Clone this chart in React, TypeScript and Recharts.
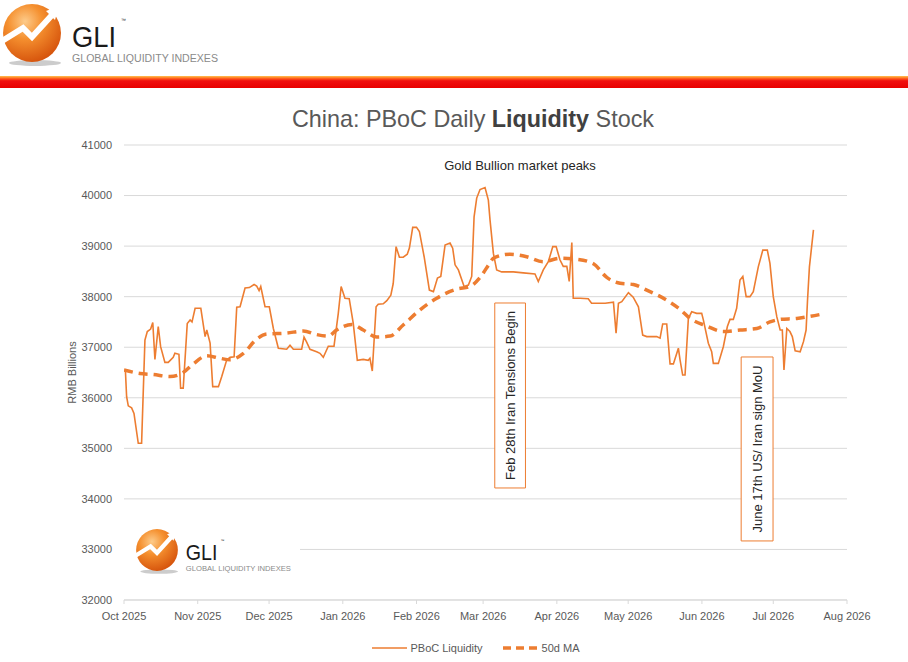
import React from 'react';
import { LineChart, Line, XAxis, YAxis, CartesianGrid, ReferenceArea, Legend } from 'recharts';

// ---------- data (x = days since 1 Oct 2025) ----------
const monthTickDays = [0, 31, 61, 92, 123, 151, 182, 212, 243, 273, 304];
const monthTickLabels = ['Oct 2025', 'Nov 2025', 'Dec 2025', 'Jan 2026', 'Feb 2026', 'Mar 2026', 'Apr 2026', 'May 2026', 'Jun 2026', 'Jul 2026', 'Aug 2026'];
const yTicks = [32000, 33000, 34000, 35000, 36000, 37000, 38000, 39000, 40000, 41000];

const pbocDays = [0, 0.6, 1.1, 1.8, 3.2, 4.2, 6.0, 7.4, 8.8, 9.8, 11.2, 12.1, 13.0, 14.4, 15.4, 17.2, 18.6, 20.7, 21.4, 23.1, 23.8, 24.9, 26.6, 27.8, 28.6, 29.9, 32.3, 34.1, 34.8, 36.2, 37.3, 39.7, 41.1, 43.2, 44.6, 46.3, 47.4, 48.8, 50.9, 52.7, 54.7, 55.8, 56.8, 57.5, 59.3, 61.1, 62.8, 64.9, 68.4, 69.8, 71.2, 74.7, 75.7, 76.8, 78.2, 81.0, 82.4, 83.8, 85.9, 88.3, 90.1, 91.3, 92.9, 94.7, 96.4, 98.1, 100.6, 102.7, 103.4, 104.4, 106.0, 106.9, 109.0, 110.5, 112.2, 113.2, 114.4, 115.8, 117.4, 119.1, 120.0, 121.4, 123.0, 124.2, 126.2, 128.4, 130.1, 131.8, 133.2, 135.0, 137.1, 138.2, 139.2, 140.6, 143.0, 144.8, 146.2, 147.2, 148.3, 149.7, 151.8, 153.2, 153.9, 155.3, 156.7, 158.8, 163.7, 167.9, 172.8, 174.2, 176.3, 178.4, 180.3, 181.7, 183.3, 184.7, 186.2, 187.2, 188.3, 188.9, 191.8, 195.2, 196.6, 202.3, 205.8, 206.9, 207.9, 209.3, 212.1, 214.1, 216.3, 218.1, 219.8, 224.0, 225.4, 226.5, 228.2, 229.6, 231.0, 233.1, 233.8, 234.9, 235.9, 237.3, 238.7, 240.8, 242.9, 243.6, 245.7, 247.1, 247.8, 249.9, 252.0, 253.7, 254.8, 256.2, 257.6, 259.0, 260.2, 261.6, 263.2, 264.6, 266.7, 268.6, 270.5, 271.6, 273.0, 274.5, 275.9, 276.8, 277.5, 278.7, 280.0, 281.0, 282.2, 284.3, 285.7, 286.8, 287.4, 288.2, 289.9];
const pbocValues = [36530, 36530, 36020, 35840, 35800, 35690, 35100, 35100, 37140, 37310, 37360, 37490, 36760, 37410, 37010, 36700, 36700, 36800, 36880, 36860, 36190, 36190, 37470, 37540, 37500, 37770, 37770, 37210, 37340, 37080, 36220, 36220, 36420, 36750, 36800, 36810, 37790, 37800, 38170, 38180, 38240, 38210, 38120, 38200, 37800, 37800, 37370, 36980, 36960, 37040, 36960, 36960, 37200, 37100, 36960, 36910, 36880, 36800, 37020, 37020, 37670, 38200, 37970, 37960, 37470, 36740, 36760, 36740, 36780, 36530, 37800, 37850, 37860, 37920, 38030, 38260, 38990, 38780, 38780, 38840, 38960, 39370, 39370, 39290, 38790, 38130, 38100, 38370, 38400, 39020, 39060, 38960, 38630, 38530, 38200, 38230, 38400, 39580, 39950, 40120, 40160, 39910, 39520, 38860, 38530, 38490, 38490, 38470, 38450, 38300, 38530, 38690, 38990, 38990, 38730, 38600, 38600, 38300, 39070, 37970, 37970, 37960, 37870, 37870, 37890, 37280, 37870, 37900, 38080, 37990, 37800, 37240, 37210, 37210, 37180, 37460, 37460, 36670, 36670, 36980, 36750, 36450, 36450, 37570, 37700, 37670, 37670, 37540, 37080, 36910, 36680, 36680, 37010, 37410, 37550, 37550, 37770, 38330, 38400, 38000, 38000, 38100, 38590, 38920, 38920, 38660, 38000, 37600, 37340, 37340, 36550, 37370, 37310, 37210, 36930, 36910, 37110, 37340, 37930, 38590, 39320];

const maDays = [0, 6.7, 12.3, 19.3, 24.9, 29.1, 34.8, 40.4, 44.6, 50.2, 55.8, 60.0, 68.4, 75.4, 81.0, 85.9, 89.4, 95.8, 100.6, 106.3, 111.9, 117.4, 124.5, 131.5, 139.9, 145.5, 149.7, 153.9, 155.3, 162.3, 169.3, 176.3, 183.3, 190.4, 197.4, 203.0, 208.6, 214.2, 219.8, 228.2, 233.8, 238.0, 245.0, 252.0, 259.0, 266.1, 271.6, 275.9, 282.9, 287.1, 294.0];
const maValues = [36550, 36480, 36460, 36420, 36500, 36670, 36830, 36780, 36750, 36880, 37160, 37260, 37280, 37320, 37250, 37220, 37340, 37450, 37340, 37200, 37220, 37440, 37740, 37970, 38150, 38200, 38380, 38670, 38760, 38840, 38790, 38690, 38760, 38740, 38650, 38380, 38265, 38240, 38130, 37930, 37750, 37570, 37420, 37310, 37340, 37370, 37500, 37550, 37570, 37600, 37660];

const annotationTexts = ['Feb 28th Iran Tensions Begin', 'June 17th US/ Iran sign MoU'];
const annotationDays = [[155.9, 168.8], [259.5, 272.9]];
const annotationValues = [[34216, 37875], [33168, 36807]];

const pbocData = pbocDays.map((d, i) => ({ d, v: pbocValues[i] }));
const maData = maDays.map((d, i) => ({ d, v: maValues[i] }));

const ORANGE = '#ED7D31';
const FONT = '"Liberation Sans", Arial, sans-serif';
const GRAY = '#595959';

const BoxLabel = (props: any) => {
  const vb = props.viewBox || {};
  const cx = vb.x + vb.width / 2;
  const cy = vb.y + vb.height / 2;
  return (
    <text x={cx} y={cy} transform={`rotate(-90 ${cx} ${cy})`} textAnchor="middle" dominantBaseline="central" fontSize={13} fill="#262626" fontFamily={FONT}>
      {props.text}
    </text>
  );
};

const renderLegend = () => (
  <div style={{ display: 'flex', justifyContent: 'center', alignItems: 'center', height: 20, paddingLeft: 44, fontSize: 11, color: GRAY, fontFamily: FONT }}>
    <svg width={35} height={6}><line x1={0} y1={3} x2={35} y2={3} stroke={ORANGE} strokeWidth={1.6} /></svg>
    <span style={{ marginLeft: 3 }}>PBoC Liquidity</span>
    <svg width={35} height={6} style={{ marginLeft: 20 }}><line x1={0} y1={3} x2={35} y2={3} stroke={ORANGE} strokeWidth={3.5} strokeDasharray="8 5" /></svg>
    <span style={{ marginLeft: 4 }}>50d MA</span>
  </div>
);

const Logo = ({ cx, cy, s, id }: { cx: number; cy: number; s: number; id: string }) => (
  <g transform={`translate(${cx},${cy}) scale(${s})`}>
    <defs>
      <radialGradient id={id} cx="38%" cy="30%" r="75%">
        <stop offset="0%" stopColor="#FDCB8A" />
        <stop offset="40%" stopColor="#F5902F" />
        <stop offset="100%" stopColor="#D4500A" />
      </radialGradient>
    </defs>
    <ellipse cx={3} cy={30} rx={26} ry={3} fill="#999" opacity={0.5} />
    <circle cx={0} cy={0} r={29} fill={`url(#${id})`} />
    <polyline points="-30,8 -9,-5 0,4 20,-18" fill="none" stroke="#fff" strokeWidth={6} strokeLinejoin="miter" />
    <polygon points="14,-22 27,-27 23,-13" fill="#fff" />
    <text x={40} y={14} fontSize={30} fill="#1a1a1a" fontFamily={FONT} textLength={44} lengthAdjust="spacingAndGlyphs">GLI</text>
    <text x={89} y={-11} fontSize={5} fill="#1a1a1a" fontFamily={FONT}>™</text>
    <text x={40} y={29} fontSize={10} fill="#8a8a8a" fontFamily={FONT} textLength={146} lengthAdjust="spacingAndGlyphs">GLOBAL LIQUIDITY INDEXES</text>
  </g>
);

export default function App() {
  return (
    <div style={{ position: 'absolute', left: 0, top: 0, width: 908, height: 662, background: '#fff', overflow: 'hidden' }}>
      <LineChart width={908} height={662} margin={{ top: 145, right: 61, bottom: 4, left: 64 }} style={{ fontFamily: FONT }}>
        <CartesianGrid vertical={false} stroke="#d9d9d9" strokeWidth={1} />
        <XAxis
          type="number"
          dataKey="d"
          domain={[0, 304]}
          ticks={monthTickDays}
          tickFormatter={(v: number) => monthTickLabels[monthTickDays.indexOf(v)] ?? ''}
          interval={0}
          height={38}
          tickSize={4}
          tickMargin={8}
          axisLine={{ stroke: '#d9d9d9' }}
          tickLine={{ stroke: '#d9d9d9' }}
          tick={{ fontSize: 11, fill: GRAY }}
          allowDataOverflow
        />
        <YAxis
          type="number"
          domain={[32000, 41000]}
          ticks={yTicks}
          interval={0}
          width={60}
          axisLine={false}
          tickLine={false}
          tickMargin={6}
          tick={{ fontSize: 11, fill: GRAY }}
          label={{ value: 'RMB Billions', angle: -90, position: 'insideLeft', offset: 8, style: { fontSize: 11, fill: GRAY, textAnchor: 'middle' } }}
        />
        {annotationTexts.map((t, i) => (
          <ReferenceArea
            key={t}
            x1={annotationDays[i][0]}
            x2={annotationDays[i][1]}
            y1={annotationValues[i][0]}
            y2={annotationValues[i][1]}
            fill="#ffffff"
            fillOpacity={1}
            stroke={ORANGE}
            strokeWidth={1}
            ifOverflow="visible"
            label={(p: any) => <BoxLabel {...p} text={t} />}
          />
        ))}
        <Line data={maData} dataKey="v" type="monotone" stroke={ORANGE} strokeWidth={3.5} strokeDasharray="9 6" dot={false} activeDot={false} isAnimationActive={false} name="50d MA" />
        <Line data={pbocData} dataKey="v" type="linear" stroke={ORANGE} strokeWidth={1.6} dot={false} activeDot={false} isAnimationActive={false} name="PBoC Liquidity" />
        <Legend verticalAlign="bottom" content={renderLegend} wrapperStyle={{ left: 0, width: 908 }} />
      </LineChart>

      <svg width={908} height={662} style={{ position: 'absolute', left: 0, top: 0, pointerEvents: 'none' }}>
        <defs>
          <linearGradient id="band" x1="0" y1="0" x2="0" y2="1">
            <stop offset="0%" stopColor="#FFC34D" />
            <stop offset="22%" stopColor="#FF5A1A" />
            <stop offset="40%" stopColor="#F01010" />
            <stop offset="100%" stopColor="#E80000" />
          </linearGradient>
        </defs>
        <Logo cx={32} cy={33} s={1} id="logoA" />
        <rect x={0} y={76} width={908} height={12} fill="url(#band)" />
        <text x={473} y={127} textAnchor="middle" fontSize={24} fill={GRAY} fontFamily={FONT} textLength={362} lengthAdjust="spacingAndGlyphs">
          China: PBoC Daily <tspan fontWeight="bold" fill="#404040">Liquidity</tspan> Stock
        </text>
        <text x={520} y={170} textAnchor="middle" fontSize={13} fill="#262626" fontFamily={FONT}>Gold Bullion market peaks</text>
        <rect x={118} y={515} width={182} height={70} fill="#fff" />
        <Logo cx={157} cy={550} s={0.72} id="logoB" />
      </svg>
    </div>
  );
}
